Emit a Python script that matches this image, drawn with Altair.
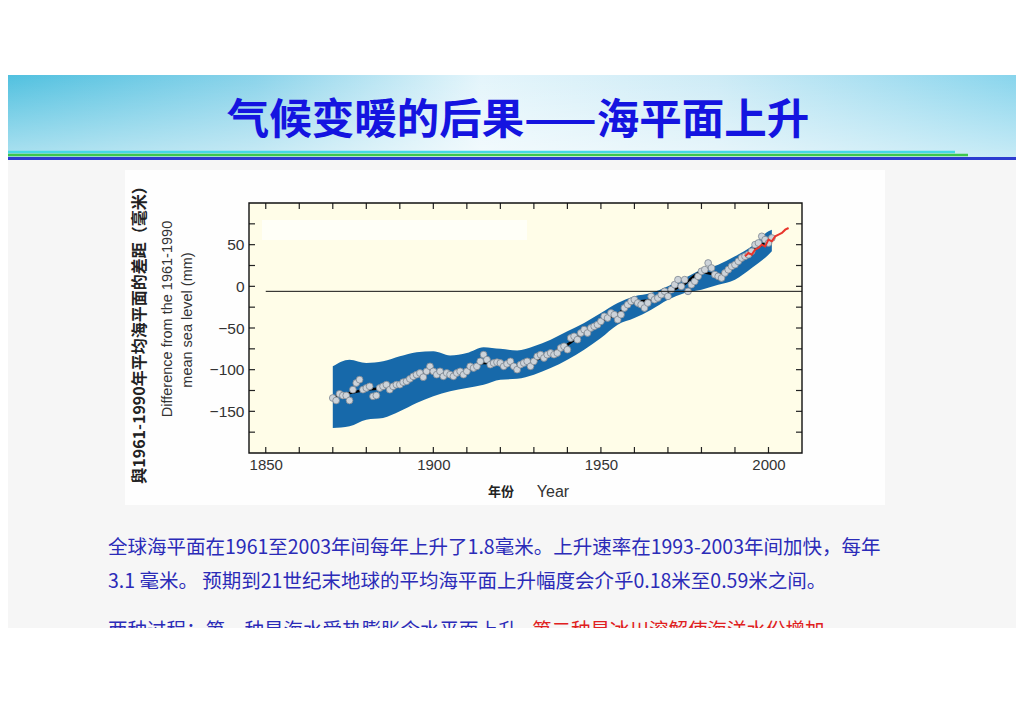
import altair as alt
import pandas as pd

# ---------------- data ----------------
years = list(range(1870, 2002))
sea_level = [
    -134, -137, -129, -131, -131, -137, -124, -116, -112, -124,   # 1870-1879
    -122, -120, -132, -131, -122, -120, -118, -124, -120, -118,   # 1880-1889
    -118, -115, -114, -111, -108, -106, -104, -109, -102, -96,    # 1890-1899
    -102, -106, -102, -108, -104, -106, -108, -104, -102, -106,   # 1900-1909
    -102, -96, -98, -96, -90, -82, -88, -94, -92, -91,            # 1910-1919
    -92, -96, -93, -90, -96, -100, -94, -92, -90, -96,            # 1920-1929
    -90, -84, -82, -86, -82, -80, -82, -80, -74, -72,             # 1930-1939
    -76, -62, -60, -64, -56, -52, -56, -50, -48, -46,             # 1940-1949
    -42, -36, -38, -32, -34, -40, -34, -26, -22, -18,             # 1950-1959
    -16, -20, -22, -26, -20, -12, -16, -14, -10, -6,              # 1960-1969
    -12, -4, 2, 8, 0, 8, -6, 2, 6, 12,                            # 1970-1979
    18, 20, 28, 22, 14, 12, 10, 16, 20, 24,                       # 1980-1989
    26, 30, 34, 36, 38, 42, 50, 52, 60, 56,                       # 1990-1999
    52, 58,                                                       # 2000-2001
]

band_years = [1870, 1875, 1880, 1885, 1890, 1895, 1900, 1905, 1910, 1915,
              1920, 1925, 1930, 1935, 1940, 1945, 1950, 1955, 1960, 1965,
              1970, 1975, 1980, 1985, 1990, 1995, 2000, 2001]
band_upper = [-96, -88, -92, -90, -84, -79, -78, -83, -80, -73,
              -75, -77, -72, -64, -54, -44, -32, -20, -12, -8,
              0, 10, 20, 26, 36, 48, 66, 68]
band_lower = [-170, -168, -160, -158, -150, -140, -132, -126, -122, -118,
              -112, -111, -106, -98, -88, -76, -62, -46, -38, -28,
              -16, -8, -4, 2, 8, 22, 38, 42]

smooth_years = [1870, 1875, 1880, 1885, 1890, 1895, 1900, 1905, 1910, 1915,
                1920, 1925, 1930, 1935, 1940, 1945, 1950, 1955, 1960, 1965,
                1970, 1975, 1980, 1985, 1990, 1995, 2000]
smooth_level = [-133, -128, -124, -122, -117, -106, -103, -105, -101, -92,
                -93, -95, -89, -81, -70, -55, -42, -33, -19, -16,
                -7, 3, 17, 14, 25, 42, 55]

sat_years = list(range(1993, 2007))
sat_level = [36, 40, 38, 44, 46, 50, 48, 56, 54, 60, 62, 64, 68, 70]

x_tick_years = list(range(1850, 2001, 10))
y_tick_values = list(range(-175, 100, 25))
x_label_years = [1850, 1900, 1950, 2000]
y_label_values = [-150, -100, -50, 0, 50]
ref_line_value = [-6]
ref_line_start = [1850]
ref_line_end = [2010]

title_text = "气候变暖的后果——海平面上升"
ytitle_cn = "與1961-1990年平均海平面的差距（毫米）"
ytitle_en1 = "Difference from the 1961-1990"
ytitle_en2 = "mean sea level (mm)"
xtitle_cn = "年份"
xtitle_en = "Year"
para1 = "全球海平面在1961至2003年间每年上升了1.8毫米。上升速率在1993-2003年间加快，每年"
para2 = "3.1 毫米。 预期到21世纪末地球的平均海平面上升幅度会介乎0.18米至0.59米之间。"
para3a = "两种过程：第一种是海水受热膨胀令水平面上升，"
para3b = "第二种是冰川溶解使海洋水份增加"

# ---------------- layout ----------------
W, H = 553, 250          # plot area
OX, OY = 249, 203        # plot origin on the page
CJK = "Noto Sans CJK SC"
LAT = "Liberation Sans"

def px(x):
    return x - OX

def py(y):
    return y - OY

one = alt.Data(values=[{}])

def rect(x1, y1, x2, y2, **kw):
    return alt.Chart(one).mark_rect(**kw).encode(
        x=alt.value(px(x1)), x2=alt.value(px(x2)),
        y=alt.value(py(y1)), y2=alt.value(py(y2)))

def hline(x1, x2, y, color, width):
    return alt.Chart(one).mark_rule(color=color, strokeWidth=width).encode(
        x=alt.value(px(x1)), x2=alt.value(px(x2)), y=alt.value(py(y)))

def text(t, x, y, size, color, font=CJK, weight="normal", align="left", angle=0):
    kw = dict(text=t, fontSize=size, color=color, font=font, fontWeight=weight,
              align=align, baseline="middle")
    if angle:
        kw["angle"] = angle
    return alt.Chart(one).mark_text(**kw).encode(x=alt.value(px(x)), y=alt.value(py(y)))

# ---------------- scales / axes ----------------
x_scale = alt.Scale(domain=[1845, 2010], nice=False, zero=False)
y_scale = alt.Scale(domain=[-200, 100], nice=False, zero=False)
x_axis = alt.Axis(values=x_label_years, format="d", ticks=False, domain=False, grid=False,
                  labelFontSize=15, labelFont=LAT, labelColor="#333333", labelPadding=4,
                  title=None, zindex=5)
y_axis = alt.Axis(values=y_label_values, format="d", ticks=False, domain=False, grid=False,
                  labelFontSize=15.5, labelFont=LAT, labelColor="#333333", labelPadding=5,
                  title=None, zindex=5)

def X(field="year"):
    return alt.X(f"{field}:Q", scale=x_scale, axis=x_axis)

def Y(field="mm"):
    return alt.Y(f"{field}:Q", scale=y_scale, axis=y_axis)

pts_df = pd.DataFrame({"year": years, "mm": sea_level})
band_df = pd.DataFrame({"year": band_years, "mm": band_upper, "mm2": band_lower})
smooth_df = pd.DataFrame({"year": smooth_years, "mm": smooth_level})
sat_df = pd.DataFrame({"year": sat_years, "mm": sat_level})
xt_df = pd.DataFrame({"year": x_tick_years})
yt_df = pd.DataFrame({"mm": y_tick_values})
ref_df = pd.DataFrame({"year": ref_line_start, "year2": ref_line_end, "mm": ref_line_value})

# ---------------- background decoration ----------------
slide_bg = rect(0, 160, 1024, 628, color="#f6f6f6")
header = rect(0, 75, 1024, 160, fill=alt.LinearGradient(
    gradient="linear", x1=0, y1=0, x2=1, y2=0,
    stops=[alt.GradientStop(color="#4fc0df", offset=0),
           alt.GradientStop(color="#8ad3ea", offset=0.25),
           alt.GradientStop(color="#e4f5fb", offset=0.47),
           alt.GradientStop(color="#cdebf6", offset=0.7),
           alt.GradientStop(color="#86d4ec", offset=1)]))
header_fade = rect(0, 75, 1024, 160, fill=alt.LinearGradient(
    gradient="linear", x1=0, y1=0, x2=0, y2=1,
    stops=[alt.GradientStop(color="rgba(255,255,255,0)", offset=0),
           alt.GradientStop(color="rgba(255,255,255,0.55)", offset=1)]))
line_c = hline(5, 955, 152, "#46d8e6", 2.5)
line_g = hline(5, 968, 155, "#3ec64c", 2.5)
line_b = hline(5, 1020, 158.5, "#2c3cd0", 3)
panel = rect(125, 170, 885, 505, color="#fefefe")
plot_bg = rect(OX, OY, OX + W, OY + H, color="#fffde8")
patch = rect(262, 220, 527, 240, color="#fffff7")

# ---------------- data marks ----------------
band = alt.Chart(band_df).mark_area(color="#1769aa", interpolate="monotone").encode(
    x=X(), y=Y(), y2="mm2:Q")
smooth = alt.Chart(smooth_df).mark_line(color="#000000", strokeWidth=2.5,
                                         interpolate="monotone").encode(x=X(), y=Y())
points = alt.Chart(pts_df).mark_point(filled=True, shape="circle", size=46, fill="#cdd3d9",
                                      stroke="#7d8690", strokeWidth=0.8, opacity=1).encode(
    x=X(), y=Y())
sat = alt.Chart(sat_df).mark_line(color="#e8352c", strokeWidth=2).encode(x=X(), y=Y())
ref = alt.Chart(ref_df).mark_rule(color="#111111", strokeWidth=1).encode(
    x=X(), x2="year2:Q", y=Y())

xt_bottom = alt.Chart(xt_df).mark_rule(color="#222222", strokeWidth=1.2).encode(
    x=X(), y=alt.value(H), y2=alt.value(H - 6))
xt_top = alt.Chart(xt_df).mark_rule(color="#222222", strokeWidth=1.2).encode(
    x=X(), y=alt.value(0), y2=alt.value(6))
yt_left = alt.Chart(yt_df).mark_rule(color="#222222", strokeWidth=1.2).encode(
    y=Y(), x=alt.value(0), x2=alt.value(6))
yt_right = alt.Chart(yt_df).mark_rule(color="#222222", strokeWidth=1.2).encode(
    y=Y(), x=alt.value(W), x2=alt.value(W - 6))
frame = rect(OX, OY, OX + W, OY + H, fillOpacity=0, stroke="#111111", strokeWidth=1.4)

# ---------------- texts ----------------
t_title = text(title_text, 518, 121, 42.5, "#1414e0", weight="bold", align="center")
t_ycn = text(ytitle_cn, 140, 331, 16, "#222222", weight="bold", align="center", angle=270)
t_yen1 = text(ytitle_en1, 168, 319, 14.5, "#333333", font=LAT, align="center", angle=270)
t_yen2 = text(ytitle_en2, 188, 320, 14.5, "#333333", font=LAT, align="center", angle=270)
t_xcn = text(xtitle_cn, 501, 492, 13, "#222222", weight="bold", align="center")
t_xen = text(xtitle_en, 553, 492, 16, "#333333", font=LAT, align="center")
t_p1 = text(para1, 108, 548, 19.5, "#2b2bb8")
t_p2 = text(para2, 108, 582, 19.5, "#2b2bb8")
t_p3a = text(para3a, 108, 631, 19.5, "#2b2bb8")
t_p3b = text(para3b, 532, 631, 19.5, "#e02020")
cover = rect(0, 628, 1024, 724, color="#ffffff")

chart = alt.layer(
    slide_bg, header, header_fade, line_c, line_g, line_b, panel, plot_bg, patch,
    band, smooth, points, sat, ref, xt_bottom, xt_top, yt_left, yt_right, frame,
    t_title, t_ycn, t_yen1, t_yen2, t_xcn, t_xen, t_p1, t_p2, t_p3a, t_p3b, cover,
).properties(
    width=W, height=H,
    padding={"left": OX - 8, "top": OY - 8, "right": 1008 - (OX - 8) - W,
             "bottom": 704 - (OY - 8) - H},
    autosize=alt.AutoSizeParams(type="none"),
    background="#ffffff",
).configure_view(strokeWidth=0)

chart.save("out.html", embed_options={"renderer": "svg", "actions": False})
